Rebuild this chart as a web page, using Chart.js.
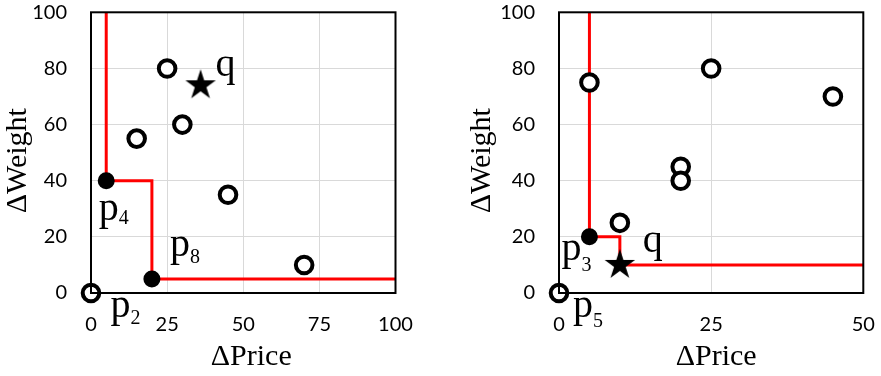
<!DOCTYPE html>
<html>
<head>
<meta charset="utf-8">
<script src="https://cdn.jsdelivr.net/npm/chart.js@4/dist/chart.umd.min.js"></script>
<style>
  html, body { margin: 0; padding: 0; background: #fff; }
  #wrap { position: relative; width: 881px; height: 376px; }
  canvas { position: absolute; top: 0; }
  #left { left: 0; }
  #right { left: 440px; }
</style>
</head>
<body>
<div id="wrap">
  <canvas id="left" width="440" height="376"></canvas>
  <canvas id="right" width="441" height="376"></canvas>
</div>
<script>
// ---- Left panel: query q far from the origin ----
const leftOpenX = [0, 15, 25, 30, 45, 70];
const leftOpenY = [0, 55, 80, 60, 35, 10];
const leftSkyX = [5, 20];
const leftSkyY = [40, 5];
const leftQueryX = [36];
const leftQueryY = [74];
const leftBoundX = [5, 5, 20, 20, 100];
const leftBoundY = [100, 40, 40, 5, 5];
const leftXTicks = [0, 25, 50, 75, 100];

// ---- Right panel: query q close to the origin ----
const rightOpenX = [0, 5, 25, 45, 20, 20, 10];
const rightOpenY = [0, 75, 80, 70, 45, 40, 25];
const rightSkyX = [5];
const rightSkyY = [20];
const rightQueryX = [10];
const rightQueryY = [10];
const rightBoundX = [5, 5, 10, 10, 50];
const rightBoundY = [100, 20, 20, 10, 10];
const rightXTicks = [0, 25, 50];

const yTicks = [0, 20, 40, 60, 80, 100];
const xTitle = 'ΔPrice';
const yTitle = 'ΔWeight';

// Point labels: main letter + subscript, attached to a point of a dataset
const leftLabels = [
  { text: 'p', sub: '2', set: 1, idx: 0, dx: 19.5, dy: 24, drop: 7 },
  { text: 'p', sub: '4', set: 2, idx: 0, dx: -7.5, dy: 39.5, drop: 4 },
  { text: 'p', sub: '8', set: 2, idx: 1, dx: 18, dy: -23, drop: 7 },
  { text: 'q', sub: '',  set: 3, idx: 0, dx: 15, dy: -9, drop: 0 }
];
const rightLabels = [
  { text: 'p', sub: '5', set: 1, idx: 0, dx: 14, dy: 24, drop: 10 },
  { text: 'p', sub: '3', set: 2, idx: 0, dx: -28, dy: 23, drop: 11 },
  { text: 'q', sub: '',  set: 3, idx: 0, dx: 23, dy: -13, drop: 0 }
];

const zip = (xs, ys) => xs.map((x, i) => ({ x, y: ys[i] }));

// Filled five-pointed star used as the query marker
function makeStar(R) {
  const size = Math.ceil(R * 2 + 4);
  const c = document.createElement('canvas');
  c.width = size; c.height = size;
  const g = c.getContext('2d');
  const cx = size / 2, cy = size / 2, r = R * 0.382;
  g.beginPath();
  for (let i = 0; i < 10; i++) {
    const rad = i % 2 === 0 ? R : r;
    const a = -Math.PI / 2 + i * Math.PI / 5;
    const px = cx + rad * Math.cos(a), py = cy + rad * Math.sin(a);
    if (i === 0) g.moveTo(px, py); else g.lineTo(px, py);
  }
  g.closePath();
  g.fillStyle = '#000';
  g.fill();
  return c;
}
const starImg = makeStar(16);

// Black frame around the plot area
const framePlugin = {
  id: 'frame',
  afterDatasetsDraw(chart) {
    const a = chart.chartArea, ctx = chart.ctx;
    ctx.save();
    ctx.strokeStyle = '#000';
    ctx.lineWidth = 2;
    ctx.strokeRect(a.left, a.top, a.right - a.left, a.bottom - a.top);
    ctx.restore();
  }
};

// Axis titles and point labels
const textPlugin = {
  id: 'texts',
  afterDraw(chart, args, opts) {
    const a = chart.chartArea, ctx = chart.ctx;
    ctx.save();
    ctx.fillStyle = '#000';
    ctx.font = '30px "Liberation Serif", "Times New Roman", serif';
    ctx.textAlign = 'center';
    ctx.textBaseline = 'middle';
    ctx.fillText(xTitle, (a.left + a.right) / 2 + opts.xTitleShift, opts.xTitleY);
    ctx.save();
    ctx.translate(opts.yTitleX, (a.top + a.bottom) / 2 + opts.yTitleShift);
    ctx.rotate(-Math.PI / 2);
    ctx.fillText(yTitle, 0, 0);
    ctx.restore();

    ctx.textAlign = 'left';
    ctx.textBaseline = 'alphabetic';
    const xs = chart.scales.x, ys = chart.scales.y;
    opts.labels.forEach(l => {
      const pt = chart.data.datasets[l.set].data[l.idx];
      const px = xs.getPixelForValue(pt.x) + l.dx;
      const py = ys.getPixelForValue(pt.y) + l.dy;
      ctx.font = '40px "Liberation Serif", "Times New Roman", serif';
      ctx.fillText(l.text, px, py);
      const w = ctx.measureText(l.text).width;
      if (l.sub) {
        ctx.font = '20px "Liberation Serif", "Times New Roman", serif';
        ctx.fillText(l.sub, px + w, py + l.drop);
      }
    });
    ctx.restore();
  }
};

function buildChart(id, cfg) {
  const tickFont = { family: 'Lato', size: 20, lineHeight: 1.1 };
  return new Chart(document.getElementById(id), {
    type: 'scatter',
    data: {
      datasets: [
        {
          data: zip(cfg.boundX, cfg.boundY),
          showLine: true, borderColor: '#ff0000', borderWidth: 3,
          pointRadius: 0, fill: false, order: 4
        },
        {
          data: zip(cfg.openX, cfg.openY),
          pointStyle: 'circle', pointRadius: 8.3, borderWidth: 4,
          borderColor: '#000', backgroundColor: '#fff', clip: false, order: 3
        },
        {
          data: zip(cfg.skyX, cfg.skyY),
          pointStyle: 'circle', pointRadius: 7, borderWidth: 3,
          borderColor: '#000', backgroundColor: '#000', clip: false, order: 2
        },
        {
          data: zip(cfg.qX, cfg.qY),
          pointStyle: starImg, clip: false, order: 1
        }
      ]
    },
    options: {
      responsive: false,
      devicePixelRatio: 1,
      animation: false,
      events: [],
      layout: { padding: cfg.padding },
      plugins: {
        legend: { display: false },
        tooltip: { enabled: false },
        texts: cfg.texts
      },
      scales: {
        x: {
          type: 'linear', min: 0, max: cfg.xMax,
          afterBuildTicks: s => { s.ticks = cfg.xTicks.map(v => ({ value: v })); },
          afterFit: s => { s.height = 83; },
          grid: { color: '#d9d9d9', lineWidth: 1, drawTicks: true, tickLength: 21, tickColor: 'rgba(0,0,0,0)' },
          border: { display: false },
          ticks: { color: '#000', font: tickFont, padding: 0, maxRotation: 0 }
        },
        y: {
          type: 'linear', min: 0, max: 100,
          afterBuildTicks: s => { s.ticks = yTicks.map(v => ({ value: v })); },
          afterFit: s => { s.width = cfg.yWidth; },
          grid: { color: '#d9d9d9', lineWidth: 1, drawTicks: true, tickLength: 24, tickColor: 'rgba(0,0,0,0)' },
          border: { display: false },
          ticks: { color: '#000', font: tickFont, padding: 0 }
        }
      }
    },
    plugins: [framePlugin, textPlugin]
  });
}

buildChart('left', {
  boundX: leftBoundX, boundY: leftBoundY,
  openX: leftOpenX, openY: leftOpenY,
  skyX: leftSkyX, skyY: leftSkyY,
  qX: leftQueryX, qY: leftQueryY,
  xMax: 100, xTicks: leftXTicks, yWidth: 91,
  padding: { left: 0, top: 11, right: 44.5, bottom: 0 },
  texts: { labels: leftLabels, xTitleShift: 8, xTitleY: 357, yTitleX: 18.5, yTitleShift: 8 }
});

buildChart('right', {
  boundX: rightBoundX, boundY: rightBoundY,
  openX: rightOpenX, openY: rightOpenY,
  skyX: rightSkyX, skyY: rightSkyY,
  qX: rightQueryX, qY: rightQueryY,
  xMax: 50, xTicks: rightXTicks, yWidth: 119,
  padding: { left: 0, top: 11, right: 17.7, bottom: 0 },
  texts: { labels: rightLabels, xTitleShift: 5, xTitleY: 357, yTitleX: 42.5, yTitleShift: 8 }
});
</script>
</body>
</html>
